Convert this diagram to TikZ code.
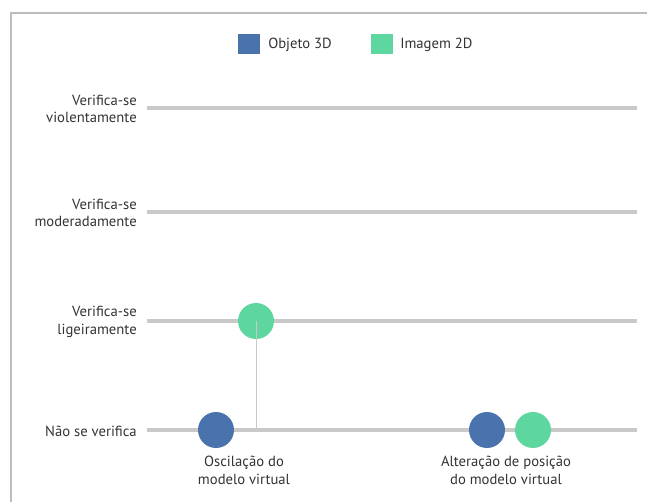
\documentclass[tikz,border=0pt]{standalone}
\usepackage{fontspec}
\setmainfont{PT Sans}
\definecolor{obj}{HTML}{4A72AD}
\definecolor{img}{HTML}{5ED69F}
\definecolor{grid}{HTML}{C9C9C9}
\definecolor{frame}{HTML}{BDBDBD}
\definecolor{txt}{HTML}{333333}
\begin{document}
\begin{tikzpicture}[x=0.75pt,y=-0.75pt,
  every node/.style={font=\fontsize{11}{13}\selectfont,text=txt},
  level/.style={draw=grid,line width=2.3pt},
  lvllabel/.style={anchor=east,align=right,inner sep=0pt},
  catlabel/.style={anchor=north,align=center,inner sep=0pt},
  dot/.style={circle,minimum size=27pt,inner sep=0pt},
  swatch/.style={minimum width=16pt,minimum height=15pt,inner sep=0pt},
  legtext/.style={anchor=west,inner sep=0pt}]
\useasboundingbox (0,0) rectangle (647,502);
% outer frame (top and left edges)
\draw[frame,line width=1.5pt] (11,502) -- (11,13) -- (647,13);
% legend
\node[swatch,fill=obj] (s3d) at (249,44) {};
\node[legtext] (t3d) at (268,45) {Objeto 3D};
\node[swatch,fill=img] (s2d) at (382,44) {};
\node[legtext] (t2d) at (400,45) {Imagem 2D};
% level lines
\coordinate (v0) at (147,108); \coordinate (v1) at (637,108);
\coordinate (m0) at (147,212); \coordinate (m1) at (637,212);
\coordinate (l0) at (147,321); \coordinate (l1) at (637,321);
\coordinate (n0) at (147,430); \coordinate (n1) at (637,430);
\draw[level] (v0) -- (v1);
\draw[level] (m0) -- (m1);
\draw[level] (l0) -- (l1);
\draw[level] (n0) -- (n1);
\node[lvllabel] (lv) at (137,109) {Verifica-se\\violentamente};
\node[lvllabel] (lm) at (137,213) {Verifica-se\\moderadamente};
\node[lvllabel] (ll) at (137,322) {Verifica-se\\ligeiramente};
\node[lvllabel] (ln) at (137,431) {Não se verifica};
% first category
\coordinate (c1base) at (256,430);
\node[dot,fill=img] (g1) at (256,321) {};
\draw[grid,line width=0.6pt] (g1.center) -- (c1base);
\node[dot,fill=obj] (b1) at (216,430) {};
\node[catlabel] (cat1) at (244,456) {Oscilação do\\modelo virtual};
% second category
\node[dot,fill=obj] (b2) at (487,430) {};
\node[dot,fill=img] (g2) at (533,430) {};
\node[catlabel] (cat2) at (506,456) {Alteração de posição\\do modelo virtual};
\end{tikzpicture}
\end{document}
